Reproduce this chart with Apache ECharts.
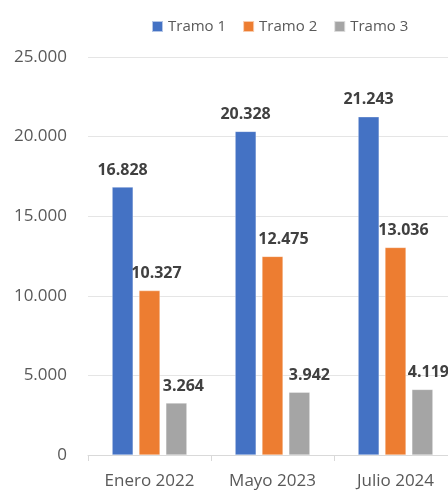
<!DOCTYPE html>
<html><head><meta charset="utf-8">
<script src="https://cdn.jsdelivr.net/npm/echarts@6/dist/echarts.min.js"></script>
<style>html,body{margin:0;padding:0;background:#fff;overflow:hidden}#c{width:448px;height:491px}</style>
</head><body><div id="c"></div>
<script>
var categories = ['Enero 2022', 'Mayo 2023', 'Julio 2024'];
var seriesNames = ['Tramo 1', 'Tramo 2', 'Tramo 3'];
var tramo1 = [16828, 20328, 21243];
var tramo2 = [10327, 12475, 13036];
var tramo3 = [3264, 3942, 4119];
var colors = ['#4472C4', '#ED7D31', '#A5A5A5'];

function fmt(v) { return String(Math.round(v)).replace(/\B(?=(\d{3})+(?!\d))/g, '.'); }
var FONT = 'Open Sans';
var chart = echarts.init(document.getElementById('c'));
// horizontal nudges of the value labels (as in the original layout)
var labelNudge = [[0, 0, 0], [7, 11, 8], [7, 10, 6]];
function mk(idx, data) {
  return {
    name: seriesNames[idx], type: 'bar',
    data: data.map(function (v, i) { return { value: v, label: { offset: [labelNudge[idx][i], 0] } }; }),
    barWidth: 21, barGap: '28%',
    itemStyle: { color: colors[idx], borderColor: 'rgba(255,255,255,0.6)', borderWidth: 0.5 },
    label: { show: true, position: 'top', distance: 9, formatter: function (p) { return fmt(p.value); },
      fontFamily: FONT, fontSize: 16, fontWeight: 'bold', color: '#404040' }
  };
}
chart.setOption({
  animation: false,
  color: colors,
  legend: { top: 19, left: 151, padding: 0, itemWidth: 11, itemHeight: 11, itemGap: 16,
    icon: 'rect', textStyle: { fontFamily: FONT, fontSize: 15, color: '#595959' }, data: seriesNames },
  grid: { left: 88, right: -9, top: 57, bottom: 36, containLabel: false, outerBoundsMode: 'none' },
  xAxis: { type: 'category', data: categories,
    axisLine: { lineStyle: { color: '#d9d9d9' } },
    axisTick: { show: true, length: 6, lineStyle: { color: '#d9d9d9' } },
    axisLabel: { fontFamily: FONT, fontSize: 17, color: '#595959', margin: 18 } },
  yAxis: { type: 'value', min: 0, max: 25000, interval: 5000,
    axisLine: { show: false }, axisTick: { show: false },
    splitLine: { lineStyle: { color: '#e5e5e5' } },
    axisLabel: { fontFamily: FONT, fontSize: 17, color: '#595959', margin: 21, formatter: fmt } },
  series: [mk(0, tramo1), mk(1, tramo2), mk(2, tramo3)]
});
</script></body></html>
